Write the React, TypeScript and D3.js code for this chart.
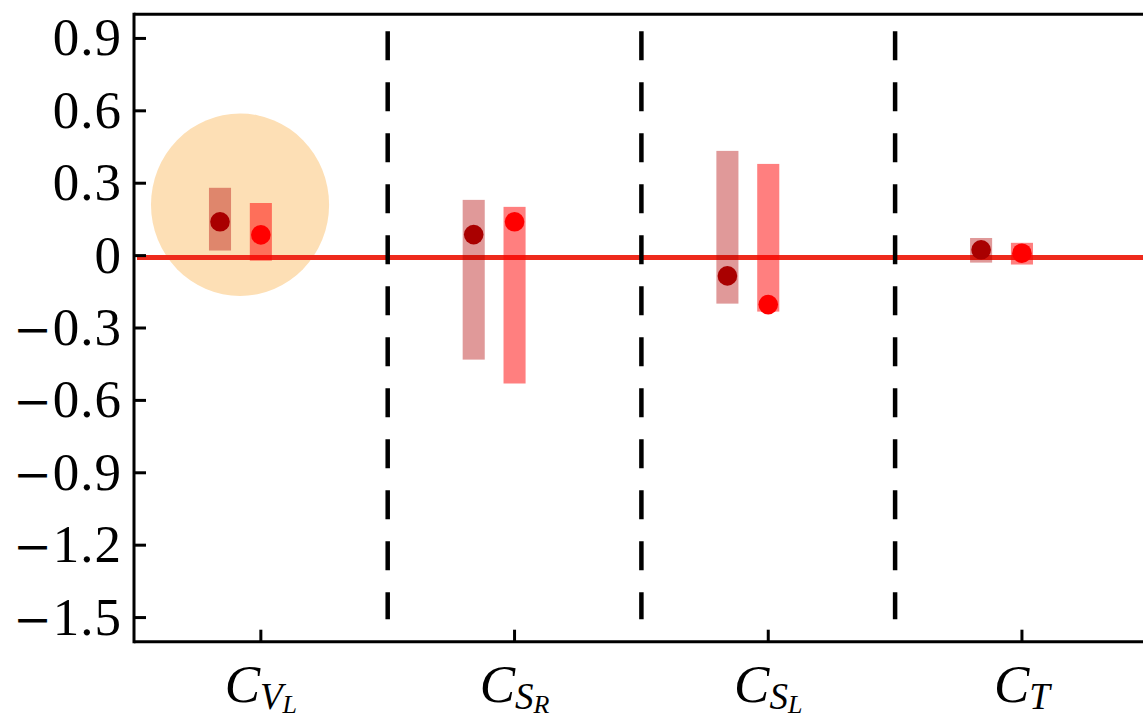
import React from "react";
import * as d3 from "d3";

// ---- data ----
const labelMain = ["C", "C", "C", "C"];
const labelSub = ["V", "S", "S", "T"];
const labelSubSub = ["L", "R", "L", ""];

const darkValues = [0.14, 0.087, -0.084, 0.024];
const darkLow = [0.021, -0.431, -0.199, -0.029];
const darkHigh = [0.281, 0.231, 0.434, 0.073];

const redValues = [0.086, 0.14, -0.203, 0.01];
const redLow = [-0.021, -0.53, -0.232, -0.037];
const redHigh = [0.218, 0.202, 0.38, 0.053];

const yTicks = [0.9, 0.6, 0.3, 0, -0.3, -0.6, -0.9, -1.2, -1.5];
const yTickLabels = ["0.9", "0.6", "0.3", "0", "0.3", "0.6", "0.9", "1.2", "1.5"];
const yTickNegative = [false, false, false, false, true, true, true, true, true];

const refLineValue = -0.008;
const separators = [0.5, 1.5, 2.5];
const separatorExtent = [0.93, -1.507];
const highlight = { x: -0.082, y: 0.211, rx: 0.351, ry: 0.378 };

const W = 1143;
const H = 720;

export default function App() {
  const x = d3.scaleLinear().domain([-0.5, 3.5]).range([134, 1148.8]);
  const y = d3.scaleLinear().domain([-1.6, 1.0]).range([641.7, 14.3]);
  const darkOffset = -0.161;
  const barW = 0.087;
  const idx = d3.range(labelMain.length);
  const x0 = x.range()[0];
  const x1 = x.range()[1];
  const yBottom = y.range()[0];
  const yTop = y.range()[1];
  const serif = "'Liberation Serif', 'DejaVu Serif', serif";

  return (
    <svg
      width={W}
      height={H}
      style={{ position: "absolute", left: 0, top: 0, display: "block", background: "#fff" }}
    >
      {/* highlight ellipse */}
      <ellipse
        cx={x(highlight.x)}
        cy={y(highlight.y)}
        rx={x(highlight.rx) - x(0)}
        ry={y(0) - y(highlight.ry)}
        fill="#fddfb5"
      />
      {/* reference line */}
      <line x1={x0 + 3} x2={x1} y1={y(refLineValue)} y2={y(refLineValue)} stroke="#ee2a1c" strokeWidth={5} />
      {/* separators */}
      {separators.map((s, i) => (
        <line
          key={"s" + i}
          x1={x(s)}
          x2={x(s)}
          y1={y(separatorExtent[0])}
          y2={y(separatorExtent[1])}
          stroke="#000"
          strokeWidth={4.5}
          strokeDasharray="29,22"
        />
      ))}
      {/* bars */}
      {idx.map((i) => (
        <g key={"b" + i}>
          <rect
            x={x(i + darkOffset - barW / 2)}
            width={x(barW) - x(0)}
            y={y(darkHigh[i])}
            height={y(darkLow[i]) - y(darkHigh[i])}
            fill="#b20000"
            fillOpacity={0.4}
          />
          <rect
            x={x(i - barW / 2)}
            width={x(barW) - x(0)}
            y={y(redHigh[i])}
            height={y(redLow[i]) - y(redHigh[i])}
            fill="#ff0000"
            fillOpacity={0.5}
          />
        </g>
      ))}
      {/* dots */}
      {idx.map((i) => (
        <g key={"d" + i}>
          <circle cx={x(i + darkOffset)} cy={y(darkValues[i])} r={9.8} fill="#a90000" />
          <circle cx={x(i)} cy={y(redValues[i])} r={9.8} fill="#ff0000" />
        </g>
      ))}
      {/* spines */}
      <line x1={x0} x2={x0} y1={yTop - 1.5} y2={yBottom + 1.5} stroke="#000" strokeWidth={3} />
      <line x1={x0} x2={x1} y1={yBottom} y2={yBottom} stroke="#000" strokeWidth={3} />
      <line x1={x0} x2={x1} y1={yTop} y2={yTop} stroke="#000" strokeWidth={3} />
      <line x1={x1} x2={x1} y1={yTop} y2={yBottom} stroke="#000" strokeWidth={3} />
      {/* y ticks */}
      {yTicks.map((t, i) => (
        <g key={"yt" + i}>
          <line x1={x0} x2={x0 + 12} y1={y(t)} y2={y(t)} stroke="#000" strokeWidth={3} />
          <text x={122} y={y(t) + 17} textAnchor="end" fontFamily={serif} fontSize={53} fill="#000" letterSpacing={1}>
            {yTickNegative[i] ? (
              <tspan fontFamily="'DejaVu Serif', serif" fontSize={46}>{"\u2212"}</tspan>
            ) : null}
            <tspan>{yTickLabels[i]}</tspan>
          </text>
        </g>
      ))}
      {/* x ticks */}
      {idx.map((i) => (
        <g key={"xt" + i}>
          <line x1={x(i)} x2={x(i)} y1={yBottom} y2={yBottom - 12} stroke="#000" strokeWidth={3} />
          <text x={x(i)} y={702} textAnchor="middle" fontFamily={serif} fontStyle="italic" fill="#000">
            <tspan fontSize={53}>{labelMain[i]}</tspan>
            <tspan fontSize={37} dy={7}>{labelSub[i]}</tspan>
            {labelSubSub[i] ? (
              <tspan fontSize={26} dy={4}>{labelSubSub[i]}</tspan>
            ) : null}
          </text>
        </g>
      ))}
    </svg>
  );
}
